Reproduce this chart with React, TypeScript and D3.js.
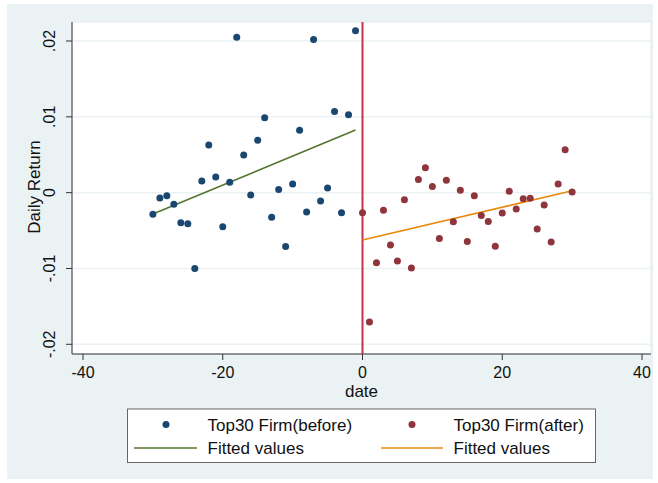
import React, { useEffect, useRef } from "react";
import * as d3 from "d3";

// days relative to the event and daily returns
const daysBefore = [-30, -29, -28, -27, -26, -25, -24, -23, -22, -21, -20, -19, -18, -17, -16, -15, -14, -13, -12, -11, -10, -9, -8, -7, -6, -5, -4, -3, -2, -1];
const returnsBefore = [
  -0.00286, -0.0007, -0.0004, -0.00154, -0.00398, -0.00411, -0.00999, 0.00155, 0.00629, 0.00208,
  -0.00451, 0.00138, 0.02048, 0.00496, -0.00031, 0.0069, 0.00987, -0.00326, 0.0004, -0.00711,
  0.00115, 0.00822, -0.00256, 0.02021, -0.0011, 0.00062, 0.0107, -0.00265, 0.01027, 0.02135,
];
const daysAfter = [0, 1, 2, 3, 4, 5, 6, 7, 8, 9, 10, 11, 12, 13, 14, 15, 16, 17, 18, 19, 20, 21, 22, 23, 24, 25, 26, 27, 28, 29, 30];
const returnsAfter = [
  -0.00265, -0.01706, -0.00923, -0.00233, -0.0069, -0.00902, -0.00093, -0.00995, 0.00172, 0.00328,
  0.0008, -0.00605, 0.00164, -0.00385, 0.00032, -0.00645, -0.0004, -0.003, -0.00379, -0.00707,
  -0.00269, 0.00019, -0.00216, -0.0008, -0.00074, -0.00481, -0.00163, -0.0065, 0.00115, 0.00566, 0.00009,
];

const xTicks = [-40, -20, 0, 20, 40];
const xTickLabels = ["-40", "-20", "0", "20", "40"];
const yTicks = [0.02, 0.01, 0, -0.01, -0.02];
const yTickLabels = [".02", ".01", "0", "-.01", "-.02"];
const legendLabels = ["Top30 Firm(before)", "Top30 Firm(after)", "Fitted values", "Fitted values"];

const W = 658;
const H = 483;
const FONT = "'Liberation Sans', Arial, sans-serif";

// ordinary least squares, like Stata's lfit
const fitLine = (xs: number[], ys: number[]) => {
  const mx = d3.mean(xs) as number;
  const my = d3.mean(ys) as number;
  let sxy = 0;
  let sxx = 0;
  xs.forEach((x, i) => {
    sxy += (x - mx) * (ys[i] - my);
    sxx += (x - mx) * (x - mx);
  });
  const b = sxy / sxx;
  const a = my - b * mx;
  const x0 = d3.min(xs) as number;
  const x1 = d3.max(xs) as number;
  return [
    [x0, a + b * x0],
    [x1, a + b * x1],
  ];
};

const App = () => {
  const ref = useRef<SVGSVGElement>(null);

  useEffect(() => {
    const svg = d3.select(ref.current);
    svg.selectAll("*").remove();

    const plot = { left: 72, right: 651, top: 22, bottom: 354 };
    const x = d3.scaleLinear().domain([-40, 40]).range([83, 642]);
    const y = d3.scaleLinear().domain([-0.02, 0.02]).range([344.3, 41]);

    // graph region
    svg.append("rect").attr("x", 7).attr("y", 4).attr("width", 646).attr("height", 475).attr("fill", "#EAF2F3");
    svg
      .append("rect")
      .attr("x", plot.left)
      .attr("y", plot.top)
      .attr("width", plot.right - plot.left)
      .attr("height", plot.bottom - plot.top)
      .attr("fill", "#fff")
      .attr("stroke", "#E2EAEC")
      .attr("stroke-width", 1);

    // gridlines
    svg
      .selectAll(".grid")
      .data(yTicks)
      .enter()
      .append("line")
      .attr("x1", plot.left)
      .attr("x2", plot.right)
      .attr("y1", (d) => y(d))
      .attr("y2", (d) => y(d))
      .attr("stroke", "#EAF2F3")
      .attr("stroke-width", 1.5);

    // y axis
    const axisColor = "#333";
    svg.append("line").attr("x1", plot.left).attr("x2", plot.left).attr("y1", plot.top).attr("y2", plot.bottom).attr("stroke", axisColor);
    svg
      .selectAll(".ytick")
      .data(yTicks)
      .enter()
      .append("line")
      .attr("x1", plot.left - 6)
      .attr("x2", plot.left)
      .attr("y1", (d) => y(d))
      .attr("y2", (d) => y(d))
      .attr("stroke", axisColor);
    svg
      .selectAll(".ylab")
      .data(yTicks)
      .enter()
      .append("text")
      .attr("transform", (d) => `translate(49,${y(d)}) rotate(-90)`)
      .attr("text-anchor", "middle")
      .attr("dy", "0.35em")
      .attr("font-family", FONT)
      .attr("font-size", 16)
      .attr("fill", "#111")
      .text((d, i) => yTickLabels[i]);
    svg
      .append("text")
      .attr("transform", `translate(34,187) rotate(-90)`)
      .attr("text-anchor", "middle")
      .attr("dy", "0.35em")
      .attr("font-family", FONT)
      .attr("font-size", 17)
      .attr("fill", "#111")
      .text("Daily Return");

    // x axis
    svg.append("line").attr("x1", plot.left).attr("x2", plot.right).attr("y1", plot.bottom).attr("y2", plot.bottom).attr("stroke", axisColor);
    svg
      .selectAll(".xtick")
      .data(xTicks)
      .enter()
      .append("line")
      .attr("x1", (d) => x(d))
      .attr("x2", (d) => x(d))
      .attr("y1", plot.bottom)
      .attr("y2", plot.bottom + 6)
      .attr("stroke", axisColor);
    svg
      .selectAll(".xlab")
      .data(xTicks)
      .enter()
      .append("text")
      .attr("x", (d) => x(d))
      .attr("y", 378)
      .attr("text-anchor", "middle")
      .attr("font-family", FONT)
      .attr("font-size", 16)
      .attr("fill", "#111")
      .text((d, i) => xTickLabels[i]);
    svg
      .append("text")
      .attr("x", (plot.left + plot.right) / 2)
      .attr("y", 397)
      .attr("text-anchor", "middle")
      .attr("font-family", FONT)
      .attr("font-size", 17)
      .attr("fill", "#111")
      .text("date");

    // event line at day 0
    svg
      .append("line")
      .attr("x1", x(0))
      .attr("x2", x(0))
      .attr("y1", plot.top)
      .attr("y2", plot.bottom)
      .attr("stroke", "#C8304F")
      .attr("stroke-width", 2);

    const blue = "#1A476F";
    const red = "#90353B";
    const green = "#55752F";
    const orange = "#E8890C";

    const line = d3
      .line<number[]>()
      .x((d) => x(d[0]))
      .y((d) => y(d[1]));

    svg.append("path").attr("d", line(fitLine(daysBefore, returnsBefore))).attr("stroke", green).attr("stroke-width", 1.6).attr("fill", "none");
    svg.append("path").attr("d", line(fitLine(daysAfter, returnsAfter))).attr("stroke", orange).attr("stroke-width", 1.6).attr("fill", "none");

    svg
      .selectAll(".before")
      .data(daysBefore)
      .enter()
      .append("circle")
      .attr("cx", (d) => x(d))
      .attr("cy", (d, i) => y(returnsBefore[i]))
      .attr("r", 3.5)
      .attr("fill", blue);
    svg
      .selectAll(".after")
      .data(daysAfter)
      .enter()
      .append("circle")
      .attr("cx", (d) => x(d))
      .attr("cy", (d, i) => y(returnsAfter[i]))
      .attr("r", 3.5)
      .attr("fill", red);

    // legend
    const lg = svg.append("g");
    lg.append("rect").attr("x", 127.5).attr("y", 409).attr("width", 468).attr("height", 53.5).attr("fill", "#fff").attr("stroke", "#666").attr("stroke-width", 1);
    lg.append("circle").attr("cx", 166).attr("cy", 424.5).attr("r", 3.5).attr("fill", blue);
    lg.append("circle").attr("cx", 412).attr("cy", 424.5).attr("r", 3.5).attr("fill", red);
    lg.append("line").attr("x1", 134).attr("x2", 197).attr("y1", 448).attr("y2", 448).attr("stroke", green).attr("stroke-width", 1.6);
    lg.append("line").attr("x1", 381).attr("x2", 443).attr("y1", 448).attr("y2", 448).attr("stroke", orange).attr("stroke-width", 1.6);
    const labelPos = [
      [207.5, 431],
      [453.5, 431],
      [207.5, 454],
      [453.5, 454],
    ];
    legendLabels.forEach((t, i) => {
      lg.append("text")
        .attr("x", labelPos[i][0])
        .attr("y", labelPos[i][1])
        .attr("font-family", FONT)
        .attr("font-size", 17)
        .attr("fill", "#111")
        .text(t);
    });
  }, []);

  return <svg ref={ref} width={W} height={H} style={{ position: "absolute", left: 0, top: 0, background: "#fff" }}></svg>;
};

export default App;
